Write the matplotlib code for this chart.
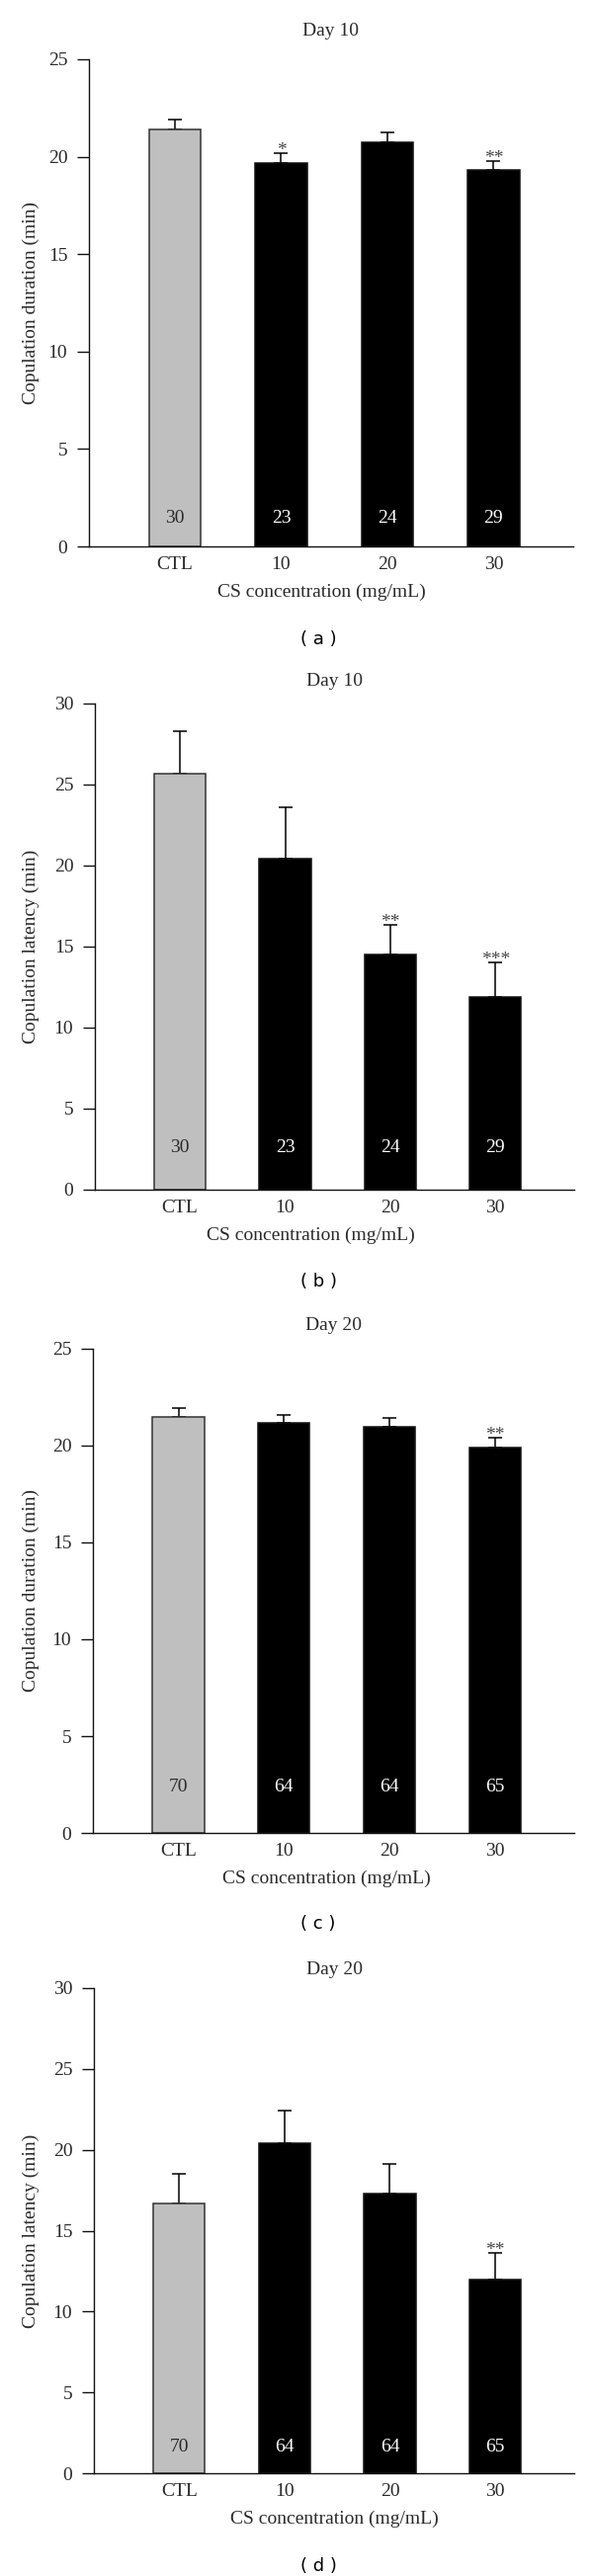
import matplotlib
matplotlib.use("Agg")
import matplotlib.pyplot as plt
import numpy as np

plt.rcParams["font.family"] = ["Liberation Serif", "DejaVu Serif"]

# data
groups = ["CTL", "10", "20", "30"]
titles = ["Day 10", "Day 10", "Day 20", "Day 20"]
ylabels = ["Copulation duration (min)", "Copulation latency (min)",
           "Copulation duration (min)", "Copulation latency (min)"]
letters = ["( a )", "( b )", "( c )", "( d )"]

dur_day10 = [21.4, 19.7, 20.75, 19.3]
dur_day10_err = [0.5, 0.47, 0.49, 0.46]
lat_day10 = [25.7, 20.4, 14.5, 11.9]
lat_day10_err = [2.6, 3.2, 1.85, 2.15]
dur_day20 = [21.5, 21.15, 20.95, 19.9]
dur_day20_err = [0.43, 0.45, 0.5, 0.5]
lat_day20 = [16.7, 20.4, 17.3, 12.0]
lat_day20_err = [1.8, 2.05, 1.85, 1.6]

n_day10 = [30, 23, 24, 29]
n_day20 = [70, 64, 64, 65]

stars_a = ["", "*", "", "**"]
stars_b = ["", "", "**", "***"]
stars_c = ["", "", "", "**"]
stars_d = ["", "", "", "**"]

panels = [
    (dur_day10, dur_day10_err, n_day10, stars_a, 25),
    (lat_day10, lat_day10_err, n_day10, stars_b, 30),
    (dur_day20, dur_day20_err, n_day20, stars_c, 25),
    (lat_day20, lat_day20_err, n_day20, stars_d, 30),
]

# layout in pixels: left, right, top, bottom of each axes
boxes = [(90, 580, 60, 553), (96, 581, 712, 1204),
         (94, 581, 1365, 1855), (95, 581, 2012, 2503)]
n_height = [1.47, 2.6, 2.35, 1.62]
title_gap = [29, 22, 23, 19]
xlabel_x = [0.48, 0.45, 0.486, 0.50]
letter_y = [647, 1297, 1947, 2597]

W, H = 600, 2607
fig = plt.figure(figsize=(W / 100, H / 100), dpi=100)
txt = "#2a2a2a"

for k, (vals, errs, ns, stars, ymax) in enumerate(panels):
    l, r, t, b = boxes[k]
    ax = fig.add_axes([l / W, 1 - b / H, (r - l) / W, (b - t) / H])
    x = np.arange(len(groups))
    colors = ["#bfbfbf", "black", "black", "black"]
    edges = ["#333333", "#111111", "#111111", "#111111"]
    # only the upper half of the error bar is shown
    ax.errorbar(x, vals, yerr=[np.zeros(len(vals)), errs], fmt="none",
                ecolor="black", elinewidth=1.1, capsize=4.7, capthick=1.1, zorder=1)
    ax.bar(x, vals, width=0.49, color=colors, edgecolor=edges, linewidth=1.1, zorder=2)

    for i in range(len(groups)):
        c = txt if i == 0 else "white"
        ax.text(x[i], n_height[k], str(ns[i]), ha="center", va="center",
                color=c, fontsize=14, zorder=3)
        if stars[i]:
            ax.annotate(stars[i], (x[i], vals[i] + errs[i]), xytext=(0, -1.5),
                        textcoords="offset points", ha="center", va="baseline",
                        color="#444444", fontsize=14)

    ax.set_xlim(-0.81, 3.75)
    ax.set_ylim(0, ymax)
    ax.set_yticks(np.arange(0, ymax + 1, 5))
    ax.set_xticks(x)
    ax.set_xticklabels(groups)
    for s in ["top", "right"]:
        ax.spines[s].set_visible(False)
    for s in ["left", "bottom"]:
        ax.spines[s].set_linewidth(1.0)
        ax.spines[s].set_color("#111111")
    ax.tick_params(axis="y", length=8.6, width=1.0, pad=7, labelsize=14,
                   labelcolor=txt, color="#111111")
    ax.tick_params(axis="x", length=0, pad=7.5, labelsize=14, labelcolor=txt)

    h = b - t
    ax.set_ylabel(ylabels[k], fontsize=14, color=txt)
    ax.yaxis.set_label_coords((31 - l) / (r - l), 0.5)
    ax.yaxis.label.set_va("center")
    ax.set_xlabel("CS concentration (mg/mL)", fontsize=14, color=txt)
    ax.xaxis.set_label_coords(xlabel_x[k], -46 / h)
    ax.xaxis.label.set_va("center")

    ax.text(0.5, 1 + title_gap[k] / h, titles[k], transform=ax.transAxes,
            ha="center", va="center", fontsize=14, color=txt)

    fig.text(322 / W, 1 - letter_y[k] / H, letters[k], ha="center", va="center",
             fontsize=13, family="DejaVu Sans", color="black")

fig.savefig("out.png", dpi=100)
